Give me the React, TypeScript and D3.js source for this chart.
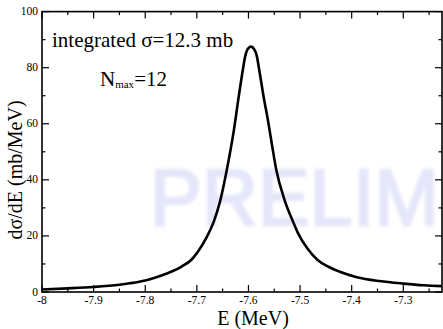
import React from "react";
import * as d3 from "d3";

const energies = [
  -8.0, -7.95, -7.9, -7.85, -7.83, -7.8, -7.766, -7.75, -7.73, -7.71, -7.697,
  -7.682, -7.667, -7.655, -7.642, -7.628, -7.619, -7.611, -7.606, -7.6, -7.595,
  -7.589, -7.584, -7.579, -7.571, -7.562, -7.554, -7.546, -7.53, -7.515, -7.504,
  -7.485, -7.466, -7.445, -7.423, -7.39, -7.346, -7.3, -7.26, -7.225,
];
const crossSection = [
  0.9, 1.3, 1.8, 2.6, 3.1, 4.1, 6.06, 7.2, 9.0, 11.6, 14.6,
  19.2, 25.2, 32.3, 43.5, 58.0, 69.5, 79.1, 84.3, 87.0, 87.5,
  86.6, 84.3, 79.1, 70.0, 61.0, 52.0, 43.5, 32.8, 25.7, 21.0,
  15.3, 11.4, 9.0, 7.24, 5.3, 3.9, 3.0, 2.4, 2.1,
];
const xTicks = [-8, -7.9, -7.8, -7.7, -7.6, -7.5, -7.4, -7.3];
const xMinor = [-7.95, -7.85, -7.75, -7.65, -7.55, -7.45, -7.35, -7.25];
const yTicks = [0, 20, 40, 60, 80, 100];
const yMinor = [10, 30, 50, 70, 90];

const W = 443;
const H = 329;
const left = 42;
const right = 442;
const top = 11.6;
const bottom = 292;

const serif = "Liberation Serif";

export default function App() {
  const x = d3.scaleLinear().domain([-8, -7.225]).range([left, right]);
  const y = d3.scaleLinear().domain([0, 100]).range([bottom, top]);
  const pts: [number, number][] = energies.map((e, i) => [e, crossSection[i]]);
  const line = d3
    .line<[number, number]>()
    .x((d) => x(d[0]))
    .y((d) => y(d[1]))
    .curve(d3.curveMonotoneX);
  const major = 7;
  const minor = 3.5;
  return (
    <svg
      width={W}
      height={H}
      style={{ position: "absolute", left: 0, top: 0, background: "#fff" }}
    >
      <defs>
        <filter id="blur" x="-5%" y="-20%" width="110%" height="140%">
          <feGaussianBlur stdDeviation={1.6} />
        </filter>
      </defs>
      <rect x={0} y={0} width={W} height={H} fill="#fff" />
      <text
        x={150}
        y={225}
        fontFamily="Liberation Sans"
        fontSize={79}
        fill="#e6e6fb"
        stroke="#e6e6fb"
        strokeWidth={2.5}
        textLength={289}
        lengthAdjust="spacingAndGlyphs"
        filter="url(#blur)"
      >
        PRELIM
      </text>
      <path d={line(pts) || ""} fill="none" stroke="#000" strokeWidth={2.6} strokeLinejoin="round" />
      <rect
        x={left}
        y={top}
        width={right - left}
        height={bottom - top}
        fill="none"
        stroke="#000"
        strokeWidth={1.6}
      />
      {xTicks.map((t) => (
        <g key={"xt" + t}>
          <line x1={x(t)} x2={x(t)} y1={bottom} y2={bottom - major} stroke="#000" strokeWidth={1.2} />
          <line x1={x(t)} x2={x(t)} y1={top} y2={top + major} stroke="#000" strokeWidth={1.2} />
          <text x={x(t)} y={303.5} textAnchor="middle" fontFamily={serif} fontSize={11.5}>
            {String(t)}
          </text>
        </g>
      ))}
      {xMinor.map((t) => (
        <g key={"xm" + t}>
          <line x1={x(t)} x2={x(t)} y1={bottom} y2={bottom - minor} stroke="#000" strokeWidth={1.2} />
          <line x1={x(t)} x2={x(t)} y1={top} y2={top + minor} stroke="#000" strokeWidth={1.2} />
        </g>
      ))}
      {yTicks.map((t) => (
        <g key={"yt" + t}>
          <line x1={left} x2={left + major} y1={y(t)} y2={y(t)} stroke="#000" strokeWidth={1.2} />
          <line x1={right} x2={right - major} y1={y(t)} y2={y(t)} stroke="#000" strokeWidth={1.2} />
          <text x={38} y={y(t) + 3.5} textAnchor="end" fontFamily={serif} fontSize={11.5}>
            {String(t)}
          </text>
        </g>
      ))}
      {yMinor.map((t) => (
        <g key={"ym" + t}>
          <line x1={left} x2={left + minor} y1={y(t)} y2={y(t)} stroke="#000" strokeWidth={1.2} />
          <line x1={right} x2={right - minor} y1={y(t)} y2={y(t)} stroke="#000" strokeWidth={1.2} />
        </g>
      ))}
      <text x={253} y={325} textAnchor="middle" fontFamily={serif} fontSize={20}>
        E (MeV)
      </text>
      <text
        transform="translate(22,170) rotate(-90)"
        textAnchor="middle"
        fontFamily={serif}
        fontSize={20}
      >
        dσ/dE (mb/MeV)
      </text>
      <text x={52} y={46.5} fontFamily={serif} fontSize={21}>
        integrated σ=12.3 mb
      </text>
      <text x={100} y={86} fontFamily={serif} fontSize={21}>
        N
        <tspan fontSize={11} dy={2}>max</tspan>
        <tspan dy={-2}>=12</tspan>
      </text>
    </svg>
  );
}
